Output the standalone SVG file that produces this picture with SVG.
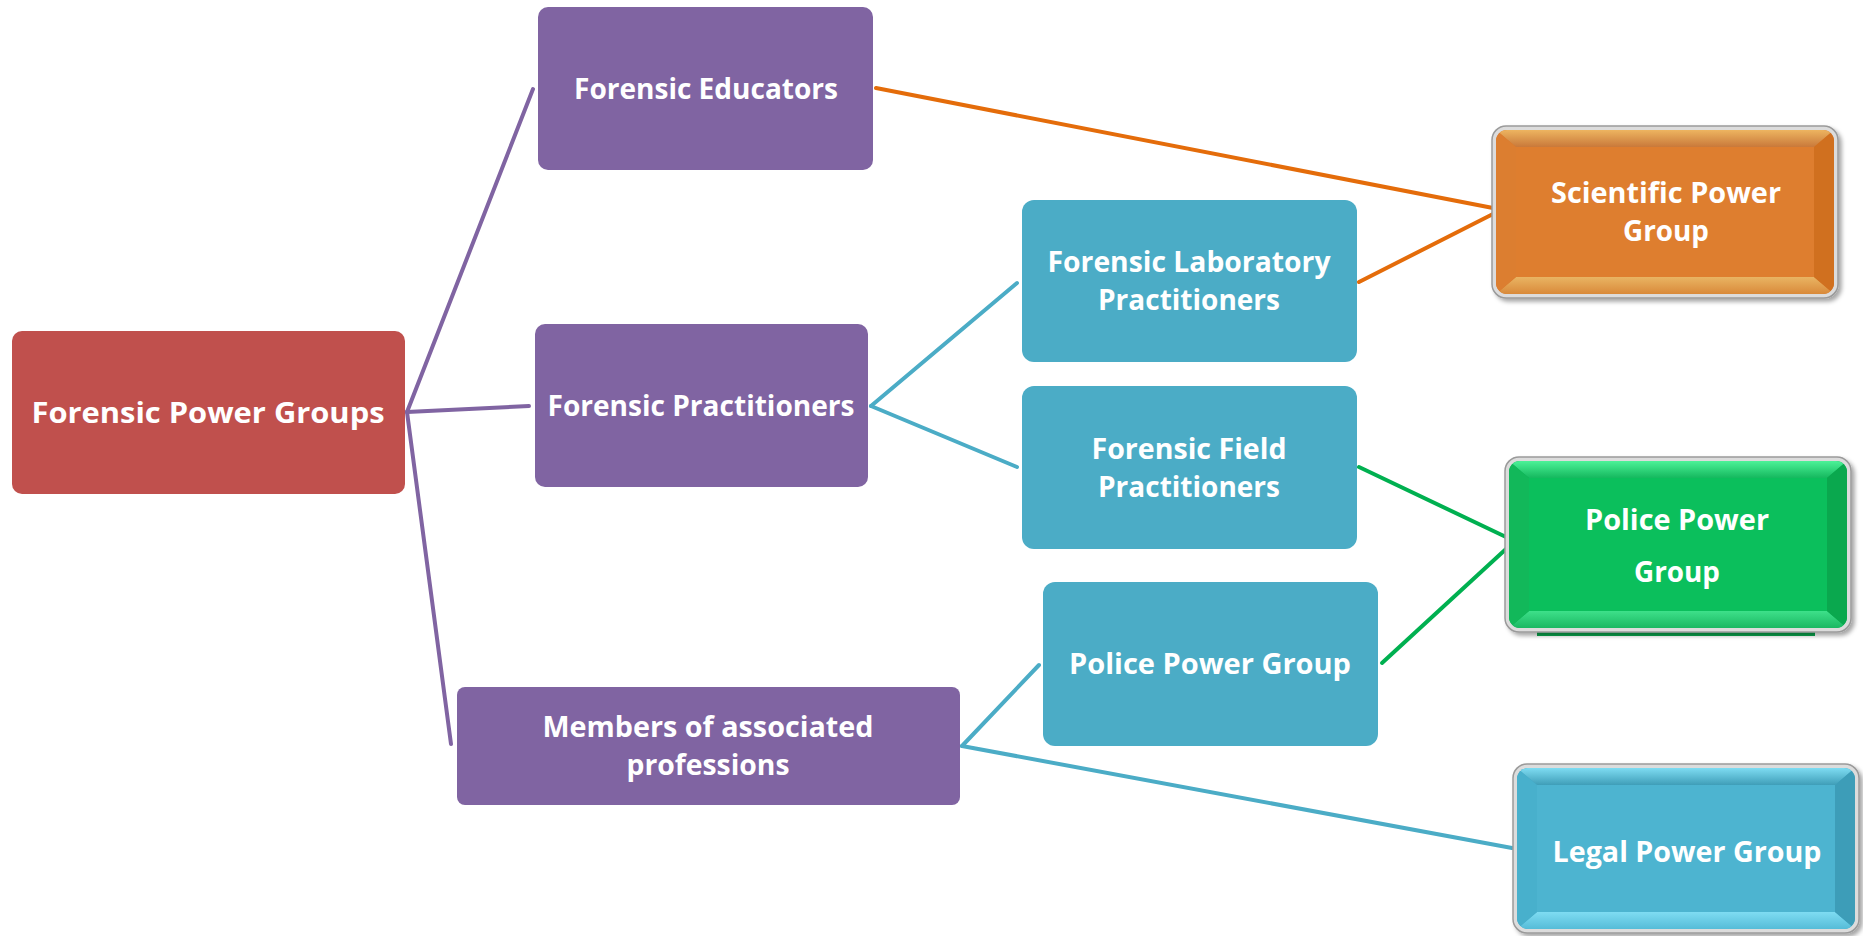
<svg xmlns="http://www.w3.org/2000/svg" width="1863" height="936" viewBox="0 0 1863 936">
<style>
.t{font-family:"Open Sans","Noto Sans","Liberation Sans",sans-serif;font-weight:700;font-size:29px;fill:#ffffff;text-anchor:middle}
.conn{fill:none;stroke-width:4;stroke-linecap:round}
.pur{stroke:#8064A2}.blu{stroke:#4BACC6}.ora{stroke:#E46C0A}.grn{stroke:#00B050}
.frame{fill:#dcdcdc;stroke:#9a9a9a;stroke-width:1.5}
</style>
<defs>
<filter id="sh" x="-5%" y="-5%" width="115%" height="120%"><feDropShadow dx="3" dy="3" stdDeviation="2" flood-color="#000" flood-opacity="0.35"/></filter>
<linearGradient id="oTop" x1="0" y1="0" x2="0" y2="1"><stop offset="0" stop-color="#EDB460"/><stop offset="1" stop-color="#C9793A"/></linearGradient>
<linearGradient id="oBot" x1="0" y1="0" x2="0" y2="1"><stop offset="0" stop-color="#E9B463"/><stop offset="1" stop-color="#D98A3A"/></linearGradient>
<linearGradient id="gTop" x1="0" y1="0" x2="0" y2="1"><stop offset="0" stop-color="#4CF298"/><stop offset="1" stop-color="#15B85E"/></linearGradient>
<linearGradient id="gBot" x1="0" y1="0" x2="0" y2="1"><stop offset="0" stop-color="#3EE08A"/><stop offset="1" stop-color="#1AB862"/></linearGradient>
<linearGradient id="bTop" x1="0" y1="0" x2="0" y2="1"><stop offset="0" stop-color="#7EDCF2"/><stop offset="1" stop-color="#3F9EB8"/></linearGradient>
<linearGradient id="bBot" x1="0" y1="0" x2="0" y2="1"><stop offset="0" stop-color="#7FDCF2"/><stop offset="1" stop-color="#55BCD8"/></linearGradient>
<clipPath id="c1"><rect x="1496" y="130" width="338" height="164" rx="11"/></clipPath>
<clipPath id="c2"><rect x="1509" y="461" width="338" height="167" rx="11"/></clipPath>
<clipPath id="c3"><rect x="1517" y="768" width="338" height="161" rx="11"/></clipPath>
</defs>
<rect width="1863" height="936" fill="#ffffff"/>
<g id="connectors">
<line class="conn pur" x1="407" y1="412" x2="533" y2="89"/>
<line class="conn pur" x1="407" y1="412" x2="529" y2="406"/>
<line class="conn pur" x1="407" y1="412" x2="451" y2="744"/>
<line class="conn blu" x1="871" y1="406" x2="1017" y2="283"/>
<line class="conn blu" x1="871" y1="406" x2="1017" y2="467"/>
<line class="conn blu" x1="962" y1="746" x2="1039" y2="665"/>
<line class="conn blu" x1="962" y1="746" x2="1512" y2="848"/>
<line class="conn ora" x1="876" y1="88" x2="1493" y2="208"/>
<line class="conn ora" x1="1359" y1="282" x2="1493" y2="214"/>
<line class="conn grn" x1="1359" y1="467" x2="1506" y2="537"/>
<line class="conn grn" x1="1382" y1="663" x2="1506" y2="549"/>
</g>
<g id="forensic-power-groups">
<rect x="12" y="331" width="393" height="163" rx="10" fill="#C0504D"/>
<text class="t" x="208" y="423" textLength="353" lengthAdjust="spacingAndGlyphs">Forensic Power Groups</text>
</g>
<g id="forensic-educators">
<rect x="538" y="7" width="335" height="163" rx="10" fill="#8064A2"/>
<text class="t" x="706" y="99" textLength="264" lengthAdjust="spacingAndGlyphs">Forensic Educators</text>
</g>
<g id="forensic-practitioners">
<rect x="535" y="324" width="333" height="163" rx="10" fill="#8064A2"/>
<text class="t" x="701" y="416" textLength="307" lengthAdjust="spacingAndGlyphs">Forensic Practitioners</text>
</g>
<g id="members-associated">
<rect x="457" y="687" width="503" height="118" rx="8" fill="#8064A2"/>
<text class="t" x="708" y="737" textLength="331" lengthAdjust="spacingAndGlyphs">Members of associated</text>
<text class="t" x="708" y="775" textLength="163" lengthAdjust="spacingAndGlyphs">professions</text>
</g>
<g id="lab-practitioners">
<rect x="1022" y="200" width="335" height="162" rx="12" fill="#4BACC6"/>
<text class="t" x="1189" y="272" textLength="283" lengthAdjust="spacingAndGlyphs">Forensic Laboratory</text>
<text class="t" x="1189" y="310" textLength="182" lengthAdjust="spacingAndGlyphs">Practitioners</text>
</g>
<g id="field-practitioners">
<rect x="1022" y="386" width="335" height="163" rx="12" fill="#4BACC6"/>
<text class="t" x="1189" y="459" textLength="195" lengthAdjust="spacingAndGlyphs">Forensic Field</text>
<text class="t" x="1189" y="497" textLength="182" lengthAdjust="spacingAndGlyphs">Practitioners</text>
</g>
<g id="police-power-group-blue">
<rect x="1043" y="582" width="335" height="164" rx="12" fill="#4BACC6"/>
<text class="t" x="1210" y="674" textLength="282" lengthAdjust="spacingAndGlyphs">Police Power Group</text>
</g>
<g id="scientific-power-group">
<rect class="frame" x="1492" y="126" width="346" height="172" rx="14" filter="url(#sh)"/>
<g clip-path="url(#c1)">
<rect x="1496" y="130" width="338" height="164" fill="#D9772A"/>
<polygon points="1496,130 1834,130 1814,147 1516,147" fill="url(#oTop)"/>
<polygon points="1496,294 1834,294 1814,277 1516,277" fill="url(#oBot)"/>
<polygon points="1496,130 1516,147 1516,277 1496,294" fill="#DC7E30"/>
<polygon points="1834,130 1814,147 1814,277 1834,294" fill="#D0701F"/>
<rect x="1516" y="147" width="298" height="130" fill="#DE7E2F"/>
</g>
<text class="t" x="1666" y="203" textLength="230" lengthAdjust="spacingAndGlyphs">Scientific Power</text>
<text class="t" x="1666" y="241" textLength="86" lengthAdjust="spacingAndGlyphs">Group</text>
</g>
<g id="police-power-group-green">
<rect x="1537" y="626" width="278" height="10" fill="#0AA84E"/>
<rect class="frame" x="1505" y="457" width="346" height="175" rx="14" filter="url(#sh)"/>
<g clip-path="url(#c2)">
<rect x="1509" y="461" width="338" height="167" fill="#0AAE52"/>
<polygon points="1509,461 1847,461 1827,478 1529,478" fill="url(#gTop)"/>
<polygon points="1509,628 1847,628 1827,611 1529,611" fill="url(#gBot)"/>
<polygon points="1509,461 1529,478 1529,611 1509,628" fill="#12B85A"/>
<polygon points="1847,461 1827,478 1827,611 1847,628" fill="#0AA84E"/>
<rect x="1529" y="478" width="298" height="133" fill="#0BBF5C"/>
</g>
<text class="t" x="1677" y="530" textLength="184" lengthAdjust="spacingAndGlyphs">Police Power</text>
<text class="t" x="1677" y="582" textLength="86" lengthAdjust="spacingAndGlyphs">Group</text>
</g>
<g id="legal-power-group">
<rect class="frame" x="1513" y="764" width="346" height="169" rx="14" filter="url(#sh)"/>
<g clip-path="url(#c3)">
<rect x="1517" y="768" width="338" height="161" fill="#42A6C2"/>
<polygon points="1517,768 1855,768 1835,785 1537,785" fill="url(#bTop)"/>
<polygon points="1517,929 1855,929 1835,912 1537,912" fill="url(#bBot)"/>
<polygon points="1517,768 1537,785 1537,912 1517,929" fill="#48B0CC"/>
<polygon points="1855,768 1835,785 1835,912 1855,929" fill="#3D9DB8"/>
<rect x="1537" y="785" width="298" height="127" fill="#4DB4D0"/>
</g>
<text class="t" x="1687" y="862" textLength="269" lengthAdjust="spacingAndGlyphs">Legal Power Group</text>
</g>
</svg>
